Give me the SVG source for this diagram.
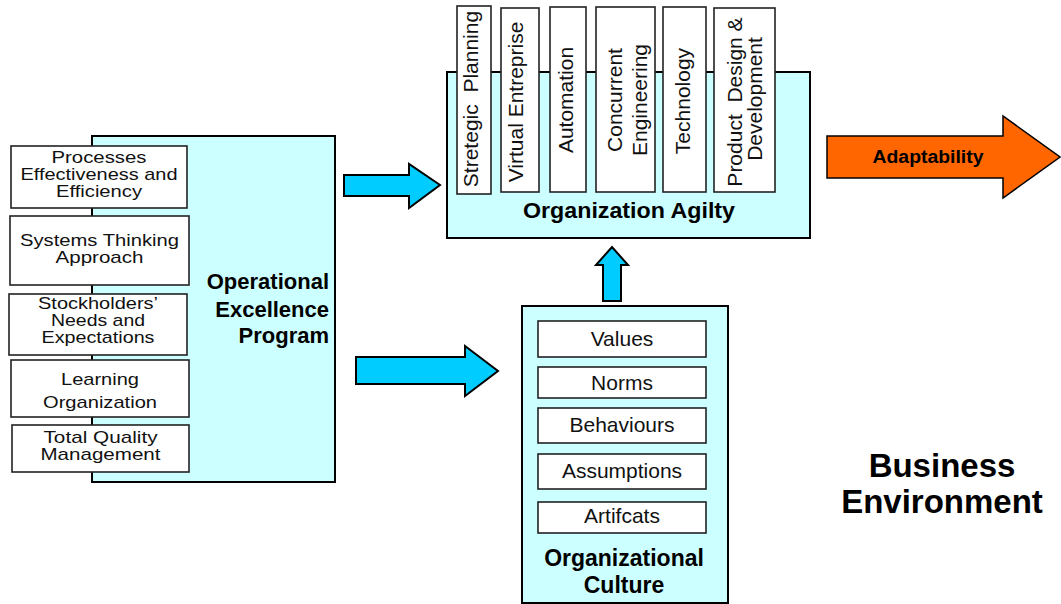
<svg xmlns="http://www.w3.org/2000/svg" width="1061" height="604" viewBox="0 0 1061 604">
  <style>
    .panel { fill: #CCFFFF; stroke: #000; stroke-width: 2; }
    .box { fill: #fff; stroke: #222; stroke-width: 1.6; }
    .txt { font-family: "Liberation Sans", Arial, sans-serif; font-size: 17px; fill: #111; text-anchor: middle; }
    .vtxt { font-family: "Liberation Sans", Arial, sans-serif; font-size: 21px; fill: #111; text-anchor: middle; }
    .title { font-family: "Liberation Sans", Arial, sans-serif; font-weight: bold; font-size: 22px; fill: #000; }
    .culture { font-size: 23px; text-anchor: middle; }
    .big { font-size: 33px; text-anchor: middle; }
    .label { font-size: 18px; text-anchor: middle; }
    .blue { fill: #00CCFF; stroke: #000; stroke-width: 2; stroke-linejoin: miter; }
    .orange { fill: #FF6600; stroke: #000; stroke-width: 1.5; }
  </style>
  <rect width="1061" height="604" fill="#fff"/>

  <!-- Operational Excellence Program -->
  <g id="operational-excellence">
    <rect class="panel" x="92" y="136" width="243" height="346"/>
    <text class="title" x="329" y="289" text-anchor="end">Operational</text>
    <text class="title" x="329" y="317" text-anchor="end">Excellence</text>
    <text class="title" x="329" y="343" text-anchor="end">Program</text>
  </g>
  <g id="processes">
    <rect class="box" x="11" y="146" width="176" height="62"/>
    <text class="txt" x="99" y="163" textLength="95" lengthAdjust="spacingAndGlyphs">Processes</text>
    <text class="txt" x="99" y="180" textLength="157" lengthAdjust="spacingAndGlyphs">Effectiveness and</text>
    <text class="txt" x="99" y="197" textLength="86" lengthAdjust="spacingAndGlyphs">Efficiency</text>
  </g>
  <g id="systems-thinking">
    <rect class="box" x="10" y="216" width="179" height="69"/>
    <text class="txt" x="99.5" y="246" textLength="159" lengthAdjust="spacingAndGlyphs">Systems Thinking</text>
    <text class="txt" x="99.5" y="263" textLength="88" lengthAdjust="spacingAndGlyphs">Approach</text>
  </g>
  <g id="stockholders">
    <rect class="box" x="9" y="294" width="178" height="61"/>
    <text class="txt" x="98" y="309" textLength="120" lengthAdjust="spacingAndGlyphs">Stockholders’</text>
    <text class="txt" x="98" y="326" textLength="94" lengthAdjust="spacingAndGlyphs">Needs and</text>
    <text class="txt" x="98" y="343" textLength="113" lengthAdjust="spacingAndGlyphs">Expectations</text>
  </g>
  <g id="learning-organization">
    <rect class="box" x="11" y="360" width="178" height="57"/>
    <text class="txt" x="100" y="385" textLength="78" lengthAdjust="spacingAndGlyphs">Learning</text>
    <text class="txt" x="100" y="408" textLength="114" lengthAdjust="spacingAndGlyphs">Organization</text>
  </g>
  <g id="total-quality">
    <rect class="box" x="12" y="425" width="177" height="47"/>
    <text class="txt" x="100.5" y="443" textLength="114" lengthAdjust="spacingAndGlyphs">Total Quality</text>
    <text class="txt" x="100.5" y="460" textLength="120" lengthAdjust="spacingAndGlyphs">Management</text>
  </g>

  <!-- Organization Agility -->
  <g id="organization-agility">
    <rect class="panel" x="447" y="72" width="363" height="166"/>
    <text class="title" x="629" y="218" text-anchor="middle" textLength="212" lengthAdjust="spacingAndGlyphs">Organization Agilty</text>
  </g>
  <g id="strategic-planning">
    <rect class="box" x="457" y="6" width="34" height="188"/>
    <text class="vtxt" xml:space="preserve" transform="translate(478,99) rotate(-90)">Stretegic  Planning</text>
  </g>
  <g id="virtual-enterprise">
    <rect class="box" x="501" y="8" width="38" height="184"/>
    <text class="vtxt" transform="translate(523,102) rotate(-90)">Virtual Entreprise</text>
  </g>
  <g id="automation">
    <rect class="box" x="550" y="7" width="36" height="185"/>
    <text class="vtxt" transform="translate(573,100) rotate(-90)">Automation</text>
  </g>
  <g id="concurrent-engineering">
    <rect class="box" x="596" y="7" width="59" height="185"/>
    <text class="vtxt" transform="translate(622,100) rotate(-90)">Concurrent</text>
    <text class="vtxt" transform="translate(647,100) rotate(-90)">Engineering</text>
  </g>
  <g id="technology">
    <rect class="box" x="663" y="7" width="43" height="185"/>
    <text class="vtxt" transform="translate(690,101) rotate(-90)">Technology</text>
  </g>
  <g id="product-design">
    <rect class="box" x="714" y="8" width="61" height="184"/>
    <text class="vtxt" xml:space="preserve" transform="translate(742,102) rotate(-90)">Product  Design &amp;</text>
    <text class="vtxt" transform="translate(762,99) rotate(-90)">Development</text>
  </g>

  <!-- Organizational Culture -->
  <g id="organizational-culture">
    <rect class="panel" x="522" y="306" width="206" height="297"/>
    <text class="title culture" x="624" y="566">Organizational</text>
    <text class="title culture" x="624" y="593">Culture</text>
  </g>
  <g id="values">
    <rect class="box" x="538" y="321" width="168" height="36"/>
    <text class="vtxt" x="622" y="346">Values</text>
  </g>
  <g id="norms">
    <rect class="box" x="538" y="367" width="168" height="31"/>
    <text class="vtxt" x="622" y="390">Norms</text>
  </g>
  <g id="behaviours">
    <rect class="box" x="538" y="408" width="168" height="35"/>
    <text class="vtxt" x="622" y="432">Behaviours</text>
  </g>
  <g id="assumptions">
    <rect class="box" x="538" y="454" width="168" height="35"/>
    <text class="vtxt" x="622" y="478">Assumptions</text>
  </g>
  <g id="artifacts">
    <rect class="box" x="538" y="502" width="168" height="31"/>
    <text class="vtxt" x="622" y="523">Artifcats</text>
  </g>

  <!-- Business Environment -->
  <g id="business-environment">
    <text class="title big" x="942" y="477">Business</text>
    <text class="title big" x="942" y="513">Environment</text>
  </g>

  <!-- Block arrows -->
  <g id="connectors">
    <polygon class="blue" points="344,175 409,175 409,164 440,185 409,208 409,196 344,196"/>
    <polygon class="blue" points="356,357 465,357 465,346 498,371 465,396 465,384 356,384"/>
    <polygon class="blue" points="603,301 603,265 596,265 612,247 628,265 621,265 621,301"/>
    <g id="adaptability">
      <polygon class="orange" points="827,136 1003,136 1003,116 1060,157 1003,198 1003,178 827,178"/>
      <text class="title label" x="928" y="163" textLength="111" lengthAdjust="spacingAndGlyphs">Adaptability</text>
    </g>
  </g>
</svg>
